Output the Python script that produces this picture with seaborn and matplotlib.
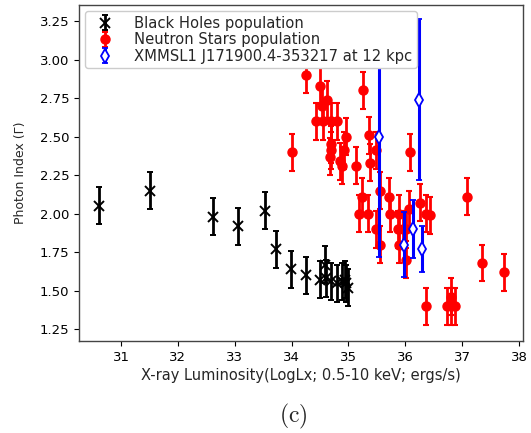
import matplotlib
matplotlib.use("Agg")
import matplotlib.pyplot as plt
import seaborn as sns

# Black Holes population
bh_x = [30.61, 31.51, 32.62, 33.06, 33.53, 33.73, 33.99, 34.26, 34.50, 34.59,
        34.60, 34.69, 34.79, 34.89, 34.94, 34.95, 34.99]
bh_y = [2.05, 2.15, 1.98, 1.92, 2.02, 1.77, 1.64, 1.60, 1.57, 1.67,
        1.58, 1.56, 1.55, 1.56, 1.57, 1.55, 1.52]
bh_err = [0.12] * len(bh_x)

# Neutron Stars population
ns_x = [34.25, 34.00, 34.50, 34.62, 34.53, 34.43, 34.56, 34.70, 34.80, 35.26,
        34.95, 34.70, 34.70, 34.92, 34.67, 34.85, 34.89, 35.13, 35.36, 35.49,
        35.38, 36.09, 35.56, 35.24, 35.72, 35.19, 35.35, 35.73, 35.89, 36.06,
        36.37, 36.43, 35.49, 35.87, 35.95, 36.02, 35.56, 35.89, 36.02, 36.25,
        37.09, 37.35, 37.73, 36.36, 36.81, 36.74, 36.81, 36.87]
ns_y = [2.90, 2.40, 2.83, 2.74, 2.70, 2.60, 2.60, 2.60, 2.60, 2.80,
        2.50, 2.45, 2.41, 2.41, 2.37, 2.34, 2.31, 2.31, 2.51, 2.41,
        2.33, 2.40, 2.15, 2.11, 2.11, 2.00, 2.00, 2.00, 2.00, 2.03,
        2.00, 1.99, 1.90, 1.90, 1.90, 1.90, 1.80, 1.80, 1.70, 2.07,
        2.11, 1.68, 1.62, 1.40, 1.46, 1.40, 1.40, 1.40]
ns_err = [0.12] * len(ns_x)

# XMMSL1 J171900.4-353217 at 12 kpc
xm_x = [35.53, 36.24, 36.13, 35.98, 36.30]
xm_y = [2.50, 2.74, 1.90, 1.80, 1.77]
xm_err = [0.78, 0.52, 0.19, 0.21, 0.15]

labels = ["Black Holes population", "Neutron Stars population",
          "XMMSL1 J171900.4-353217 at 12 kpc"]

sns.set_theme(style="ticks")
plt.rcParams["font.family"] = ["DejaVu Sans"]
plt.rcParams["mathtext.fontset"] = "cm"

fig = plt.figure(figsize=(5.31, 4.33), dpi=100)
ax = fig.add_axes([0.1488, 0.2125, 0.8362, 0.776])

ax.errorbar(bh_x, bh_y, yerr=bh_err, fmt="x", color="black", ms=7, mew=1.4,
            elinewidth=2, capsize=2, capthick=1.5, label=labels[0], zorder=2)
ax.errorbar(ns_x, ns_y, yerr=ns_err, fmt="o", color="red", ms=6.5,
            elinewidth=2, capsize=2, capthick=1.5, label=labels[1], zorder=3)
ax.errorbar(xm_x, xm_y, yerr=xm_err, fmt="d", color="blue", mfc="white",
            mec="blue", ms=7.5, mew=1.3, elinewidth=2.2, capsize=2,
            capthick=1.5, label=labels[2], zorder=4)

ax.set_xlim(30.26, 38.07)
ax.set_ylim(1.174, 3.354)
ax.set_xticks([31, 32, 33, 34, 35, 36, 37, 38])
ax.set_yticks([1.25, 1.5, 1.75, 2.0, 2.25, 2.5, 2.75, 3.0, 3.25])
ax.set_yticklabels(["1.25", "1.50", "1.75", "2.00", "2.25", "2.50", "2.75",
                    "3.00", "3.25"])
ax.tick_params(labelsize=9.5, length=3.5, width=0.8, colors="black")
for s in ax.spines.values():
    s.set_color("#444444")
    s.set_linewidth(1.0)
ax.set_xlabel("X-ray Luminosity(LogLx; 0.5-10 keV; ergs/s)", fontsize=10.5,
              labelpad=3)
ax.set_ylabel("Photon Index (\u0393)", fontsize=9, labelpad=9)

leg = ax.legend(loc="upper left", fontsize=10.6, frameon=True,
                borderaxespad=0.44, handletextpad=1.0, labelspacing=0.1,
                framealpha=1.0, borderpad=0.3)
leg.set_zorder(100)

fig.text(0.552, 0.038, r"$\mathrm{(c)}$", fontsize=17, ha="center",
         va="center")

fig.savefig("out.png", dpi=100)
